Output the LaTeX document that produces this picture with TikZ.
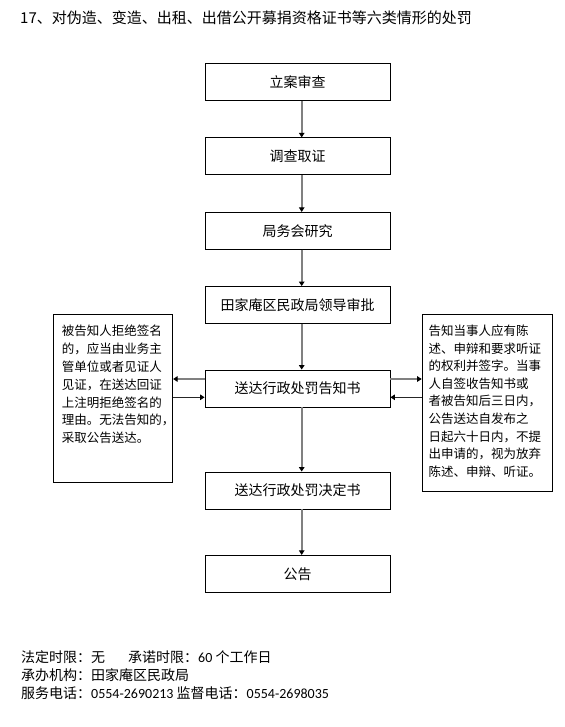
\documentclass[tikz,border=0pt]{standalone}
\usepackage{fontspec}
\setmainfont{Noto Sans CJK SC}
\newfontfamily\lat{Carlito}
\usetikzlibrary{arrows.meta}
\XeTeXlinebreaklocale "zh"
\XeTeXlinebreakskip=0pt plus 1pt minus 2pt
\newcommand\spreadto[2]{\makebox[#1][s]{#2}}
\definecolor{lg}{HTML}{808080}
\begin{document}
\begin{tikzpicture}[x=1pt,y=-1pt,
  mainbox/.style={draw, line width=0.8pt, minimum width=185pt, minimum height=37pt, inner sep=0pt,
    font=\fontsize{14}{16}\selectfont, text height=12.3pt, text depth=1.7pt},
  sidebox/.style={draw, line width=0.8pt, inner sep=0pt, anchor=north west},
  sidetext/.style={inner sep=0pt, anchor=base west, font=\fontsize{12.5}{15}\selectfont},
  plain/.style={inner sep=0pt, anchor=west, font=\fontsize{14}{16}\selectfont, text height=12.3pt, text depth=1.7pt},
  flowg/.style={draw=lg, line width=1.6pt, -{Triangle[length=4.5pt,width=5.5pt,color=black]}},
  flowk/.style={draw=black!85, line width=0.9pt, -{Triangle[length=4.5pt,width=5.5pt,color=black]}}
]
\useasboundingbox (0,0) rectangle (564,727);
\fill[white] (0,0) rectangle (564,727);

\node[plain, font=\fontsize{15}{18}\selectfont, text height=13.2pt, text depth=1.8pt] (title) at (20,18.3)
  {17、对伪造、变造、出租、出借公开募捐资格证书等六类情形的处罚};

\node[mainbox] (b1) at (297.5,82) {立案审查};
\node[mainbox] (b2) at (297.5,156.3) {调查取证};
\node[mainbox] (b3) at (297.5,230.8) {局务会研究};
\node[mainbox] (b4) at (297.5,305) {田家庵区民政局领导审批};
\node[mainbox] (b5) at (297.5,388.5) {送达行政处罚告知书};
\node[mainbox] (b6) at (297.5,490.5) {送达行政处罚决定书};
\node[mainbox] (b7) at (297.5,573.8) {公告};

\draw[flowg] ([xshift=4.2pt]b1.south) -- ([xshift=4.2pt]b2.north);
\draw[flowg] ([xshift=4.2pt]b2.south) -- ([xshift=4.2pt]b3.north);
\draw[flowg] ([xshift=4.2pt]b3.south) -- ([xshift=4.2pt]b4.north);
\draw[flowg] ([xshift=4.2pt]b4.south) -- ([xshift=4.2pt]b5.north);
\draw[flowg] ([xshift=4.2pt]b5.south) -- ([xshift=4.2pt]b6.north);
\draw[flowg] ([xshift=4.2pt]b6.south) -- ([xshift=4.2pt]b7.north);

\node[sidebox, minimum width=119pt, minimum height=167.4pt] (lbox) at (53.3,314.3) {};
\node[sidebox, minimum width=130pt, minimum height=176.7pt] (rbox) at (421.7,314) {};

\foreach \t [count=\i] in {被告知人拒绝签名,的，应当由业务主,管单位或者见证人,见证，在送达回证,上注明拒绝签名的,理由。无法告知的，}
  \node[sidetext] (lt\i) at (61.7,{335.45+17.9*(\i-1)}) {\spreadto{100pt}{\t}};
\node[sidetext] (lt7) at (61.7,{335.45+17.9*6}) {采取公告送达。};

\foreach \t [count=\i] in {告知当事人应有陈,述、申辩和要求听证,的权利并签字。当事,人自签收告知书或,者被告知后三日内，,公告送达自发布之,日起六十日内，不提,出申请的，视为放弃,陈述、申辩、听证。}
  \node[sidetext] (rt\i) at (428.3,{335.45+17.6*(\i-1)}) {\spreadto{113pt}{\t}};

\draw[flowg] ([yshift=9.5pt]b5.west) -- ([yshift=9.5pt]b5.west -| lbox.east);
\draw[flowk] ([yshift=-8.8pt]b5.west -| lbox.east) -- ([yshift=-8.8pt]b5.west);
\draw[flowg] ([yshift=9.5pt]b5.east) -- ([yshift=9.5pt]b5.east -| rbox.west);
\draw[flowk] ([yshift=-8.8pt]b5.east -| rbox.west) -- ([yshift=-8.8pt]b5.east);

\node[plain] (f1) at (21,656.7) {法定时限：无\hspace{23pt}承诺时限：{\lat 60} 个工作日};
\node[plain] (f2) at (21,675) {承办机构：田家庵区民政局};
\node[plain] (f3) at (21,693.3) {服务电话：{\lat 0554-2690213} 监督电话：{\lat 0554-2698035}};
\end{tikzpicture}
\end{document}
